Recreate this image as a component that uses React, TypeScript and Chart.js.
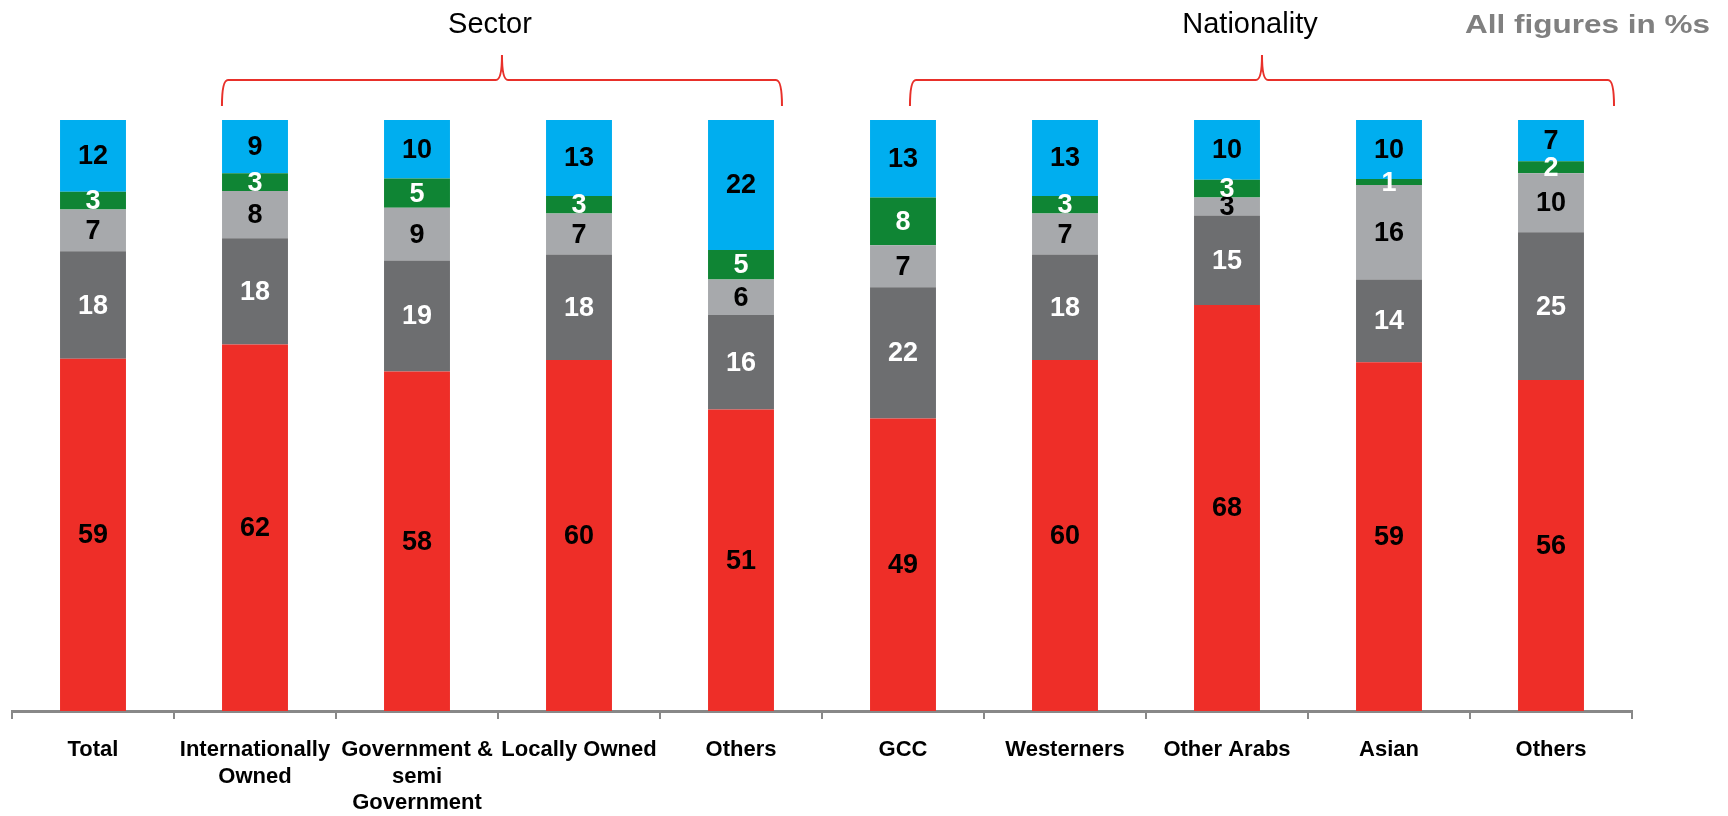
import React, { useEffect, useRef } from "react";
import { Chart, registerables } from "chart.js";

Chart.register(...registerables);

const categories: (string | string[])[] = [
  "Total",
  ["Internationally", "Owned"],
  ["Government &", "semi", "Government"],
  "Locally Owned",
  "Others",
  "GCC",
  "Westerners",
  "Other Arabs",
  "Asian",
  "Others",
];

const redValues = [59, 62, 58, 60, 51, 49, 60, 68, 59, 56];
const darkGrayValues = [18, 18, 19, 18, 16, 22, 18, 15, 14, 25];
const lightGrayValues = [7, 8, 9, 7, 6, 7, 7, 3, 16, 10];
const greenValues = [3, 3, 5, 3, 5, 8, 3, 3, 1, 2];
const blueValues = [12, 9, 10, 13, 22, 13, 13, 10, 10, 7];

const seriesList = [
  { name: "s1", values: redValues, color: "#EE2E28", text: "#000000" },
  { name: "s2", values: darkGrayValues, color: "#6D6E70", text: "#FFFFFF" },
  { name: "s3", values: lightGrayValues, color: "#A7A9AC", text: "#000000" },
  { name: "s4", values: greenValues, color: "#0F8534", text: "#FFFFFF" },
  { name: "s5", values: blueValues, color: "#00AEEF", text: "#000000" },
];

const groups = [
  { title: "Sector", from: 1, fromOff: -0.204, to: 4, toOff: 0.253 },
  { title: "Nationality", from: 5, fromOff: 0.043, to: 9, toOff: 0.389 },
];

const noteText = "All figures in %s";
const FONT = "'Liberation Sans', Arial, Helvetica, sans-serif";

const totals = categories.map((_, i) =>
  seriesList.reduce((s, ser) => s + ser.values[i], 0)
);

const labelPlugin = {
  id: "segmentLabels",
  afterDatasetsDraw(chart: any) {
    const ctx = chart.ctx;
    ctx.save();
    ctx.font = `bold 27px ${FONT}`;
    ctx.textAlign = "center";
    ctx.textBaseline = "middle";
    chart.data.datasets.forEach((ds: any, di: number) => {
      const meta = chart.getDatasetMeta(di);
      meta.data.forEach((el: any, i: number) => {
        const cy = (el.y + el.base) / 2;
        ctx.fillStyle = seriesList[di].text;
        ctx.fillText(String(seriesList[di].values[i]), el.x, cy + 1);
      });
    });
    ctx.restore();
  },
};

const bracePlugin = {
  id: "braces",
  afterDraw(chart: any) {
    const ctx = chart.ctx;
    const xs = chart.scales.x;
    const top = chart.chartArea.top;
    const yLine = top - 40;
    const yEnd = top - 14;
    const yTip = top - 65;
    const r = 6;
    ctx.save();
    groups.forEach((g) => {
      const x0 = xs.getPixelForValue(g.from + g.fromOff);
      const x1 = xs.getPixelForValue(g.to + g.toOff);
      const tip = (x0 + x1) / 2;
      ctx.strokeStyle = "#E8302A";
      ctx.lineWidth = 2;
      ctx.beginPath();
      ctx.moveTo(x0, yEnd);
      ctx.quadraticCurveTo(x0, yLine, x0 + r, yLine);
      ctx.lineTo(tip - r, yLine);
      ctx.quadraticCurveTo(tip, yLine, tip, yTip);
      ctx.moveTo(tip, yTip);
      ctx.quadraticCurveTo(tip, yLine, tip + r, yLine);
      ctx.lineTo(x1 - r, yLine);
      ctx.quadraticCurveTo(x1, yLine, x1, yEnd);
      ctx.stroke();

      ctx.fillStyle = "#000000";
      ctx.font = `29px ${FONT}`;
      ctx.textAlign = "center";
      ctx.textBaseline = "alphabetic";
      ctx.fillText(g.title, tip - 12, top - 87);
    });

    // note text, top right
    ctx.font = `bold 25px ${FONT}`;
    ctx.fillStyle = "#808080";
    ctx.textAlign = "left";
    ctx.textBaseline = "alphabetic";
    const w = ctx.measureText(noteText).width;
    const target = 245;
    const right = chart.width - 18;
    ctx.translate(right - target, top - 87);
    ctx.scale(target / w, 1);
    ctx.fillText(noteText, 0, 0);
    ctx.restore();
  },
};

export default function App() {
  const canvasRef = useRef<HTMLCanvasElement | null>(null);

  useEffect(() => {
    if (!canvasRef.current) return;
    const chart = new Chart(canvasRef.current, {
      type: "bar",
      data: {
        labels: categories,
        datasets: seriesList.map((s) => ({
          label: s.name,
          data: s.values.map((v, i) => (v * 100) / totals[i]),
          backgroundColor: s.color,
          borderWidth: 0,
          categoryPercentage: 1,
          barPercentage: 0.407,
        })),
      },
      options: {
        responsive: false,
        animation: false,
        devicePixelRatio: 1,
        layout: { padding: { left: 12, right: 96, top: 120, bottom: 0 } },
        plugins: {
          legend: { display: false },
          tooltip: { enabled: false },
          title: { display: false },
        },
        scales: {
          y: {
            display: false,
            stacked: true,
            min: 0,
            max: 100,
          },
          x: {
            stacked: true,
            grid: {
              display: true,
              drawOnChartArea: false,
              drawTicks: true,
              tickLength: 8,
              color: "#888888",
              lineWidth: 2,
              offset: true,
            },
            border: { display: true, color: "#888888", width: 3 },
            ticks: {
              color: "#000000",
              autoSkip: false,
              maxRotation: 0,
              minRotation: 0,
              padding: 18,
              font: { family: FONT, size: 22, weight: "bold", lineHeight: 1.2 },
            },
            afterFit(scale: any) {
              scale.height = 105;
            },
          } as any,
        },
      },
      plugins: [labelPlugin, bracePlugin],
    });
    return () => chart.destroy();
  }, []);

  return (
    <div
      style={{
        position: "fixed",
        left: 0,
        top: 0,
        width: 1728,
        height: 816,
        background: "#ffffff",
      }}
    >
      <canvas ref={canvasRef} width={1728} height={816} style={{ display: "block" }} />
    </div>
  );
}
